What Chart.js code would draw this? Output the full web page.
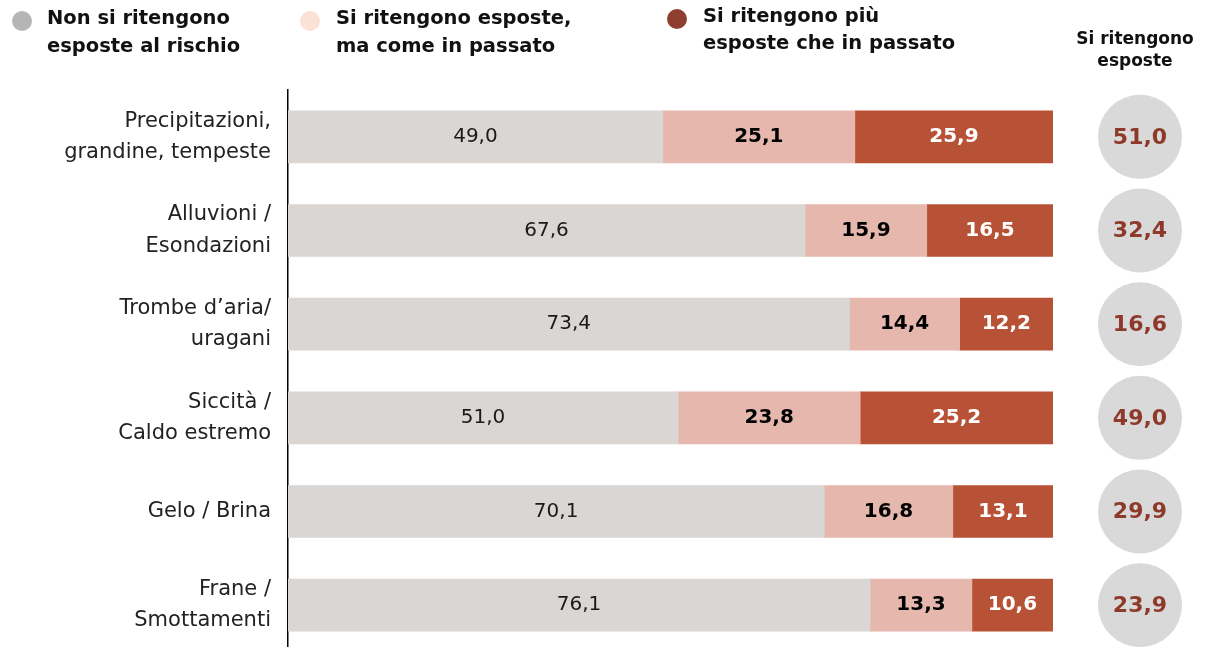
<!DOCTYPE html>
<html><head><meta charset="utf-8">
<script src="https://cdn.jsdelivr.net/npm/chart.js@4/dist/chart.umd.min.js"></script>
<style>html,body{margin:0;padding:0;background:#fff;overflow:hidden}#wrap{position:relative;width:1207px;height:652px}#c{display:block;width:1207px;height:652px}</style>
</head><body><div id="wrap"><canvas id="c" width="1207" height="652"></canvas></div>
<script>
const categories = [["Precipitazioni,","grandine, tempeste"],["Alluvioni /","Esondazioni"],["Trombe d’aria/","uragani"],["Siccità /","Caldo estremo"],["Gelo / Brina"],["Frane /","Smottamenti"]];
const seriesNames = [["Non si ritengono","esposte al rischio"],["Si ritengono esposte,","ma come in passato"],["Si ritengono più","esposte che in passato"]];
const notExposed = [49.0,67.6,73.4,51.0,70.1,76.1];
const exposedSame = [25.1,15.9,14.4,23.8,16.8,13.3];
const exposedMore = [25.9,16.5,12.2,25.2,13.1,10.6];
const exposedTotal = [51.0,32.4,16.6,49.0,29.9,23.9];
const totalHeader = ["Si ritengono","esposte"];

const FONT = "'DejaVu Sans', sans-serif";
const barColors = ['#d9d6d3','#e6b8ad','#b85236'];
const legendColors = ['#b5b5b5','#fbe1d6','#8e3f2f'];
const labelStyles = [
  {weight:'normal', color:'#1a1a1a'},
  {weight:'bold', color:'#000000'},
  {weight:'bold', color:'#ffffff'}
];
const fmt = v => v.toFixed(1).replace('.', ',');

const valueLabels = {
  id:'valueLabels',
  afterDatasetsDraw(chart){
    const ctx = chart.ctx;
    chart.data.datasets.forEach((ds, di) => {
      const meta = chart.getDatasetMeta(di);
      const st = labelStyles[di];
      meta.data.forEach((bar, i) => {
        const x = (bar.x + bar.base) / 2;
        ctx.save();
        ctx.font = st.weight + ' 20px ' + FONT;
        ctx.fillStyle = st.color;
        ctx.textAlign = 'center';
        ctx.textBaseline = 'middle';
        ctx.fillText(fmt(ds.data[i]), x, bar.y);
        ctx.restore();
      });
    });
  }
};

const extras = {
  id:'extras',
  afterDraw(chart){
    const ctx = chart.ctx;
    const legendPos = [{cx:22, tx:47}, {cx:310, tx:336}, {cx:677, tx:703}];
    const legendY = [[19,47],[19,47],[17,44]];
    seriesNames.forEach((lines, k) => {
      ctx.save();
      ctx.fillStyle = legendColors[k];
      ctx.beginPath();
      ctx.arc(legendPos[k].cx, legendY[k][0] + 2, 10, 0, Math.PI*2);
      ctx.fill();
      ctx.font = 'bold 19.5px ' + FONT;
      ctx.fillStyle = '#111';
      ctx.textAlign = 'left';
      ctx.textBaseline = 'middle';
      lines.forEach((t, j) => ctx.fillText(t, legendPos[k].tx, legendY[k][j]));
      ctx.restore();
    });
    ctx.save();
    ctx.font = 'bold 17px ' + FONT;
    ctx.fillStyle = '#111';
    ctx.textAlign = 'center';
    ctx.textBaseline = 'middle';
    ctx.fillText(totalHeader[0], 1135, 40);
    ctx.fillText(totalHeader[1], 1135, 62);
    ctx.restore();
    const ys = chart.scales.y;
    exposedTotal.forEach((v, i) => {
      const y = ys.getPixelForValue(i);
      ctx.save();
      ctx.fillStyle = '#d9d9d9';
      ctx.beginPath();
      ctx.arc(1140, y, 42, 0, Math.PI*2);
      ctx.fill();
      ctx.font = 'bold 22px ' + FONT;
      ctx.fillStyle = '#8e3a2b';
      ctx.textAlign = 'center';
      ctx.textBaseline = 'middle';
      ctx.fillText(fmt(v), 1140, y + 1);
      ctx.restore();
    });
  }
};

new Chart(document.getElementById('c'), {
  type:'bar',
  data:{
    labels: categories,
    datasets:[
      {label: seriesNames[0].join(' '), data: notExposed, backgroundColor: barColors[0]},
      {label: seriesNames[1].join(' '), data: exposedSame, backgroundColor: barColors[1]},
      {label: seriesNames[2].join(' '), data: exposedMore, backgroundColor: barColors[2]}
    ]
  },
  options:{
    indexAxis:'y',
    responsive:false,
    maintainAspectRatio:false,
    animation:false,
    events:[],
    barThickness:52,
    borderWidth:0,
    layout:{padding:{left:0, right:154, top:90, bottom:0}},
    plugins:{legend:{display:false}, tooltip:{enabled:false}},
    scales:{
      x:{stacked:true, min:0, max:100, display:false},
      y:{
        stacked:true,
        afterFit(s){ s.width = 288; s.paddingTop = 0; s.paddingBottom = 0; },
        grid:{display:false, drawTicks:false},
        border:{display:true, color:'#000', width:1.5},
        ticks:{padding:17, color:'#222', font:{family:FONT, size:21, lineHeight:1.5}}
      }
    }
  },
  plugins:[valueLabels, extras]
});
</script>
</body></html>
